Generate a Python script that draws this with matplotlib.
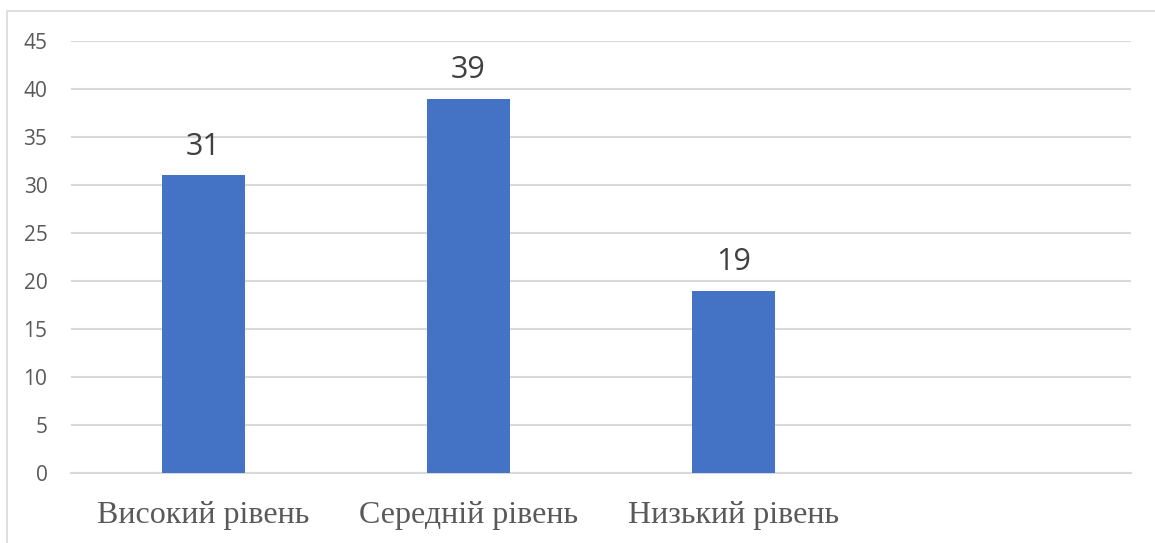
import matplotlib.pyplot as plt
from matplotlib.patches import Rectangle

categories = ["Високий рівень", "Середній рівень", "Низький рівень", ""]
values = [31, 39, 19, None]
yticks = [0, 5, 10, 15, 20, 25, 30, 35, 40, 45]

BAR_COLOR = "#4472C4"
GRID_COLOR = "#D9D9D9"

fig = plt.figure(figsize=(11.55, 5.43), dpi=100)
fig.patch.set_facecolor("white")

# outer chart border, clipped by the figure on right and bottom
fig.patches.append(Rectangle((0.006, -0.1), 1.1, 0.1 + 1 - 11 / 543,
                             transform=fig.transFigure, fill=False,
                             edgecolor="#D9D9D9", linewidth=1.2))

ax = fig.add_axes([71 / 1155, 70 / 543, 1060 / 1155, 432 / 543])

xs = list(range(len(categories)))
heights = [v if v is not None else 0 for v in values]
bars = ax.bar(xs, heights, width=0.315, color=BAR_COLOR, zorder=3)

for x, v in zip(xs, values):
    if v is None:
        continue
    ax.annotate(str(v), (x, v), xytext=(0, 9.5), textcoords="offset points",
                ha="center", va="bottom", fontsize=22, color="#404040",
                family="Open Sans")

ax.set_xlim(-0.5, len(categories) - 0.5)
ax.set_ylim(0, 45)
ax.set_yticks(yticks)
ax.set_yticklabels([str(t) for t in yticks], fontsize=15, color="#595959",
                   family="Open Sans")
ax.yaxis.grid(True, color=GRID_COLOR, linewidth=1.5, zorder=0)
ax.set_axisbelow(True)

ax.set_xticks(xs)
ax.set_xticklabels(categories, fontsize=23, color="#595959",
                   family="Liberation Serif")
ax.tick_params(axis="x", length=0, pad=20)
ax.tick_params(axis="y", length=0, pad=17)

for side in ["top", "right", "left"]:
    ax.spines[side].set_visible(False)
ax.spines["bottom"].set_color(GRID_COLOR)
ax.spines["bottom"].set_linewidth(1.5)

fig.savefig("out.png", dpi=100, facecolor="white")
